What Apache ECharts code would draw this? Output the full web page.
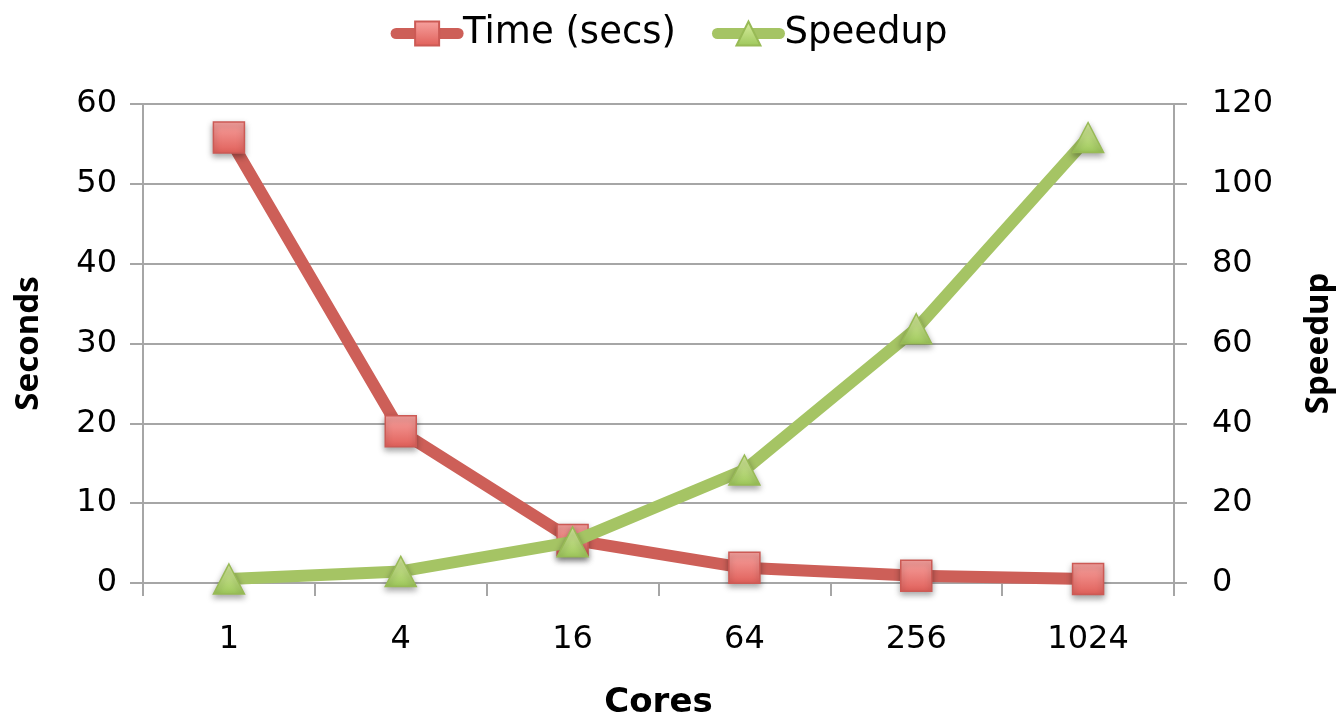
<!DOCTYPE html>
<html>
<head>
<meta charset="utf-8">
<script src="https://cdn.jsdelivr.net/npm/echarts@6/dist/echarts.min.js"></script>
<style>
html,body{margin:0;padding:0;background:#fff;}
#main{width:1338px;height:723px;}
</style>
</head>
<body>
<div id="main"></div>
<script>
const cores = ['1', '4', '16', '64', '256', '1024'];
const timeSecs = [55.8, 19, 5.4, 1.9, 0.9, 0.5];
const speedup = [1, 2.9, 10.3, 28.3, 63.7, 111.6];
const secondsTicks = {min: 0, max: 60, interval: 10};
const speedupTicks = {min: 0, max: 120, interval: 20};

const FONT = '"DejaVu Sans", "Noto Sans", sans-serif';
const TITLE_FONT = '"Noto Sans", "Open Sans", sans-serif';
const axisGray = '#a6a6a6';

const chart = echarts.init(document.getElementById('main'), null, {renderer: 'canvas'});
chart.setOption({
  animation: false,
  backgroundColor: '#ffffff',
  textStyle: {fontFamily: FONT},
  legend: {
    top: 10,
    left: 'center',
    itemWidth: 62,
    itemHeight: 30,
    itemGap: 36,
    lineStyle: {width: 11, cap: 'round'},
    textStyle: {fontFamily: FONT, fontSize: 37, color: '#000'},
    data: ['Time (secs)', 'Speedup']
  },
  grid: {left: 143, right: 164, top: 104, bottom: 140, containLabel: false, outerBoundsMode: 'none'},
  xAxis: {
    type: 'category',
    data: cores,
    boundaryGap: true,
    name: 'Cores',
    nameLocation: 'middle',
    nameGap: 103,
    nameTextStyle: {fontFamily: FONT, fontSize: 34, fontWeight: 'bold', color: '#000'},
    axisLine: {lineStyle: {color: axisGray, width: 2}},
    axisTick: {show: true, length: 13, lineStyle: {color: axisGray, width: 2}},
    axisLabel: {fontFamily: FONT, fontSize: 32, color: '#000', margin: 41}
  },
  yAxis: [{
    type: 'value',
    min: secondsTicks.min, max: secondsTicks.max, interval: secondsTicks.interval,
    name: 'Seconds',
    nameLocation: 'middle',
    nameRotate: 90,
    nameGap: 98,
    nameTextStyle: {fontFamily: TITLE_FONT, fontSize: 33, fontWeight: 'bold', color: '#000'},
    axisLine: {show: true, lineStyle: {color: axisGray, width: 2}},
    axisTick: {show: true, length: 13, lineStyle: {color: axisGray, width: 2}},
    axisLabel: {fontFamily: FONT, fontSize: 32, color: '#000', margin: 26},
    splitLine: {show: true, lineStyle: {color: axisGray, width: 2}}
  }, {
    type: 'value',
    position: 'right',
    min: speedupTicks.min, max: speedupTicks.max, interval: speedupTicks.interval,
    name: 'Speedup',
    nameLocation: 'middle',
    nameRotate: 90,
    nameGap: 128,
    nameTextStyle: {fontFamily: TITLE_FONT, fontSize: 33, fontWeight: 'bold', color: '#000'},
    axisLine: {show: true, lineStyle: {color: axisGray, width: 2}},
    axisTick: {show: true, length: 13, lineStyle: {color: axisGray, width: 2}},
    axisLabel: {fontFamily: FONT, fontSize: 32, color: '#000', margin: 38},
    splitLine: {show: false}
  }],
  series: [{
    name: 'Time (secs)',
    type: 'line',
    yAxisIndex: 0,
    data: timeSecs,
    symbol: 'rect',
    symbolSize: 31,
    lineStyle: {color: '#cd5f58', width: 12, cap: 'round', join: 'round'},
    itemStyle: {
      color: new echarts.graphic.LinearGradient(0, 0, 0, 1, [
        {offset: 0, color: '#f7a3a0'},
        {offset: 1, color: '#e05f59'}
      ]),
      borderColor: '#cc5a55',
      borderWidth: 1.5,
      shadowBlur: 6,
      shadowColor: 'rgba(0,0,0,0.35)',
      shadowOffsetY: 3
    },
    z: 2
  }, {
    name: 'Speedup',
    type: 'line',
    yAxisIndex: 1,
    data: speedup,
    symbol: 'triangle',
    symbolSize: [31, 30],
    lineStyle: {color: '#a5c464', width: 12, cap: 'round', join: 'round'},
    itemStyle: {
      color: new echarts.graphic.LinearGradient(0, 0, 0, 1, [
        {offset: 0, color: '#dcefa3'},
        {offset: 1, color: '#9dc75a'}
      ]),
      borderColor: '#98ba56',
      borderWidth: 1.5,
      shadowBlur: 6,
      shadowColor: 'rgba(0,0,0,0.35)',
      shadowOffsetY: 3
    },
    z: 3
  }]
});
</script>
</body>
</html>
